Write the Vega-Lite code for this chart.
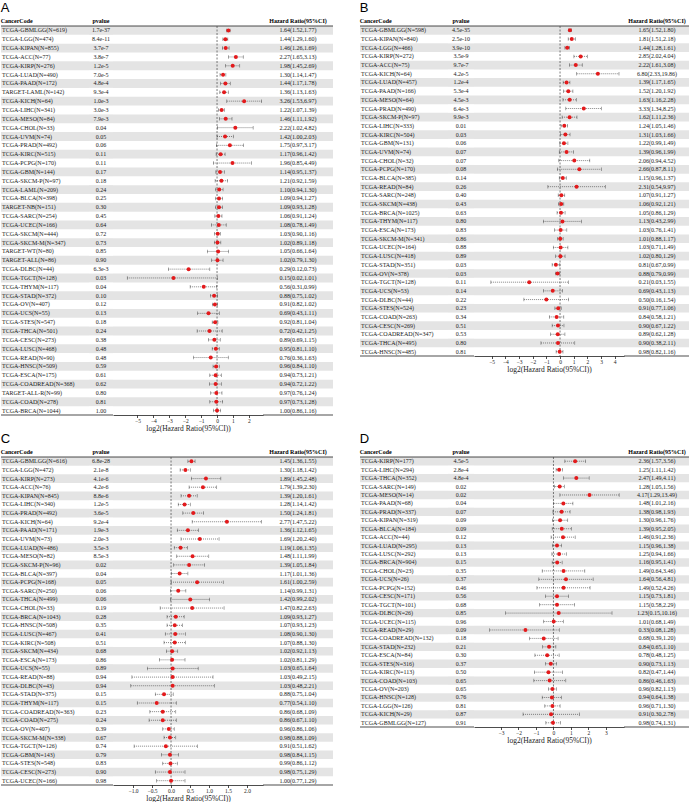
{
"$schema":"https://vega.github.io/schema/vega-lite/v6.json",
"padding":{"left":0,"top":1,"right":0,"bottom":0},
"spacing":0,
"vconcat":[
{"hconcat":[
{"title":{"text":"A","anchor":"start","fontSize":13,"font":"Liberation Sans","fontWeight":"normal","offset":3},"spacing":0,"bounds":"flush","hconcat":[
{"width":88,"height":389,"data":{"name":"a"},"transform":[{"window":[{"op":"row_number","as":"idx"}]}],"title":{"text":"CancerCode","anchor":"start"},
"encoding":{"y":{"field":"code","type":"nominal","sort":null,"axis":null,"scale":{"paddingInner":0,"paddingOuter":0}}},
"layer":[
{"mark":{"type":"rect"},"encoding":{"fill":{"condition":{"test":"datum.idx % 2 === 1","value":"#e4e4e4"},"value":"transparent"}}},
{"data":{"values":[{}]},"mark":{"type":"rule","color":"#000","strokeWidth":0.7},"encoding":{"y":{"value":0}}},
{"data":{"values":[{}]},"mark":{"type":"rule","color":"#000","strokeWidth":0.7},"encoding":{"y":{"value":"height"}}},
{"mark":{"type":"text","align":"left"},"encoding":{"x":{"value":1},"text":{"field":"code"}}}]},
{"width":24,"height":389,"data":{"name":"a"},"transform":[{"window":[{"op":"row_number","as":"idx"}]}],"title":"pvalue",
"encoding":{"y":{"field":"code","type":"nominal","sort":null,"axis":null,"scale":{"paddingInner":0,"paddingOuter":0}}},
"layer":[
{"mark":{"type":"rect"},"encoding":{"fill":{"condition":{"test":"datum.idx % 2 === 1","value":"#e4e4e4"},"value":"transparent"}}},
{"data":{"values":[{}]},"mark":{"type":"rule","color":"#000","strokeWidth":0.7},"encoding":{"y":{"value":0}}},
{"data":{"values":[{}]},"mark":{"type":"rule","color":"#000","strokeWidth":0.7},"encoding":{"y":{"value":"height"}}},
{"mark":{"type":"text"},"encoding":{"text":{"field":"p"}}}]},
{"width":150,"height":389,"data":{"name":"a"},"transform":[{"window":[{"op":"row_number","as":"idx"}]}],"title":" ",
"layer":[
{"mark":{"type":"rect"},"encoding":{"y":{"field":"code","type":"nominal","sort":null,"axis":null,"scale":{"paddingInner":0,"paddingOuter":0}},"fill":{"condition":{"test":"datum.idx % 2 === 1","value":"#e4e4e4"},"value":"transparent"}}},
{"data":{"values":[{}]},"mark":{"type":"rule","color":"#000","strokeWidth":0.7},"encoding":{"y":{"value":0}}},
{"data":{"values":[{}]},"mark":{"type":"rule","color":"#444","strokeWidth":0.7,"strokeDash":[2,1.5]},"encoding":{"x":{"datum":1,"type":"quantitative","scale":{"type":"log","base":2,"domain":[0.01075,7.41],"nice":false,"zero":false},"title":"log2(Hazard Ratio(95%CI))","axis":{"values":[0.03125,0.0625,0.125,0.25,0.5,1,2,4],"labelExpr":"format(log(datum.value)/LN2,'d')","grid":false}}}},
{"mark":{"type":"rule","color":"#333","strokeWidth":0.6,"strokeDash":[1,1]},"encoding":{"y":{"field":"code","type":"nominal","sort":null,"axis":null},"x":{"field":"lo","type":"quantitative","title":"log2(Hazard Ratio(95%CI))"},"x2":{"field":"hi"}}},
{"mark":{"type":"tick","color":"#333","thickness":0.6,"size":3.5},"encoding":{"y":{"field":"code","type":"nominal","sort":null,"axis":null},"x":{"field":"lo","type":"quantitative","title":"log2(Hazard Ratio(95%CI))"}}},
{"mark":{"type":"tick","color":"#333","thickness":0.6,"size":3.5},"encoding":{"y":{"field":"code","type":"nominal","sort":null,"axis":null},"x":{"field":"hi","type":"quantitative","title":"log2(Hazard Ratio(95%CI))"}}},
{"mark":{"type":"circle","color":"#e31a1c","size":16,"opacity":1},"encoding":{"y":{"field":"code","type":"nominal","sort":null,"axis":null},"x":{"field":"hr","type":"quantitative","title":"log2(Hazard Ratio(95%CI))"}}}]},
{"width":70,"height":389,"data":{"name":"a"},"transform":[{"window":[{"op":"row_number","as":"idx"}]}],"title":"Hazard Ratio(95%CI)",
"encoding":{"y":{"field":"code","type":"nominal","sort":null,"axis":null,"scale":{"paddingInner":0,"paddingOuter":0}}},
"layer":[
{"mark":{"type":"rect"},"encoding":{"fill":{"condition":{"test":"datum.idx % 2 === 1","value":"#e4e4e4"},"value":"transparent"}}},
{"data":{"values":[{}]},"mark":{"type":"rule","color":"#000","strokeWidth":0.7},"encoding":{"y":{"value":0}}},
{"data":{"values":[{}]},"mark":{"type":"rule","color":"#000","strokeWidth":0.7},"encoding":{"y":{"value":"height"}}},
{"mark":{"type":"text","text":{"expr":"format(datum.hr,'.2f')+'('+format(datum.lo,'.2f')+','+format(datum.hi,'.2f')+')'"}}}]}
]},
{"title":{"text":"B","anchor":"start","fontSize":13,"font":"Liberation Sans","fontWeight":"normal","offset":3},"spacing":0,"bounds":"flush","hconcat":[
{"width":88,"height":330,"data":{"name":"b"},"transform":[{"window":[{"op":"row_number","as":"idx"}]}],"title":{"text":"CancerCode","anchor":"start"},
"encoding":{"y":{"field":"code","type":"nominal","sort":null,"axis":null,"scale":{"paddingInner":0,"paddingOuter":0}}},
"layer":[
{"mark":{"type":"rect"},"encoding":{"fill":{"condition":{"test":"datum.idx % 2 === 1","value":"#e4e4e4"},"value":"transparent"}}},
{"data":{"values":[{}]},"mark":{"type":"rule","color":"#000","strokeWidth":0.7},"encoding":{"y":{"value":0}}},
{"data":{"values":[{}]},"mark":{"type":"rule","color":"#000","strokeWidth":0.7},"encoding":{"y":{"value":"height"}}},
{"mark":{"type":"text","align":"left"},"encoding":{"x":{"value":1},"text":{"field":"code"}}}]},
{"width":26,"height":330,"data":{"name":"b"},"transform":[{"window":[{"op":"row_number","as":"idx"}]}],"title":"pvalue",
"encoding":{"y":{"field":"code","type":"nominal","sort":null,"axis":null,"scale":{"paddingInner":0,"paddingOuter":0}}},
"layer":[
{"mark":{"type":"rect"},"encoding":{"fill":{"condition":{"test":"datum.idx % 2 === 1","value":"#e4e4e4"},"value":"transparent"}}},
{"data":{"values":[{}]},"mark":{"type":"rule","color":"#000","strokeWidth":0.7},"encoding":{"y":{"value":0}}},
{"data":{"values":[{}]},"mark":{"type":"rule","color":"#000","strokeWidth":0.7},"encoding":{"y":{"value":"height"}}},
{"mark":{"type":"text"},"encoding":{"text":{"field":"p"}}}]},
{"width":150,"height":330,"data":{"name":"b"},"transform":[{"window":[{"op":"row_number","as":"idx"}]}],"title":" ",
"layer":[
{"mark":{"type":"rect"},"encoding":{"y":{"field":"code","type":"nominal","sort":null,"axis":null,"scale":{"paddingInner":0,"paddingOuter":0}},"fill":{"condition":{"test":"datum.idx % 2 === 1","value":"#e4e4e4"},"value":"transparent"}}},
{"data":{"values":[{}]},"mark":{"type":"rule","color":"#000","strokeWidth":0.7},"encoding":{"y":{"value":0}}},
{"data":{"values":[{}]},"mark":{"type":"rule","color":"#444","strokeWidth":0.7,"strokeDash":[2,1.5]},"encoding":{"x":{"datum":1,"type":"quantitative","scale":{"type":"log","base":2,"domain":[0.01275,25.6],"nice":false,"zero":false},"title":"log2(Hazard Ratio(95%CI))","axis":{"values":[0.03125,0.0625,0.125,0.25,0.5,1,2,4,8,16],"labelExpr":"format(log(datum.value)/LN2,'d')","grid":false}}}},
{"mark":{"type":"rule","color":"#333","strokeWidth":0.6,"strokeDash":[1,1]},"encoding":{"y":{"field":"code","type":"nominal","sort":null,"axis":null},"x":{"field":"lo","type":"quantitative","title":"log2(Hazard Ratio(95%CI))"},"x2":{"field":"hi"}}},
{"mark":{"type":"tick","color":"#333","thickness":0.6,"size":3.5},"encoding":{"y":{"field":"code","type":"nominal","sort":null,"axis":null},"x":{"field":"lo","type":"quantitative","title":"log2(Hazard Ratio(95%CI))"}}},
{"mark":{"type":"tick","color":"#333","thickness":0.6,"size":3.5},"encoding":{"y":{"field":"code","type":"nominal","sort":null,"axis":null},"x":{"field":"hi","type":"quantitative","title":"log2(Hazard Ratio(95%CI))"}}},
{"mark":{"type":"circle","color":"#e31a1c","size":16,"opacity":1},"encoding":{"y":{"field":"code","type":"nominal","sort":null,"axis":null},"x":{"field":"hr","type":"quantitative","title":"log2(Hazard Ratio(95%CI))"}}}]},
{"width":66,"height":330,"data":{"name":"b"},"transform":[{"window":[{"op":"row_number","as":"idx"}]}],"title":"Hazard Ratio(95%CI)",
"encoding":{"y":{"field":"code","type":"nominal","sort":null,"axis":null,"scale":{"paddingInner":0,"paddingOuter":0}}},
"layer":[
{"mark":{"type":"rect"},"encoding":{"fill":{"condition":{"test":"datum.idx % 2 === 1","value":"#e4e4e4"},"value":"transparent"}}},
{"data":{"values":[{}]},"mark":{"type":"rule","color":"#000","strokeWidth":0.7},"encoding":{"y":{"value":0}}},
{"data":{"values":[{}]},"mark":{"type":"rule","color":"#000","strokeWidth":0.7},"encoding":{"y":{"value":"height"}}},
{"mark":{"type":"text","text":{"expr":"format(datum.hr,'.2f')+'('+format(datum.lo,'.2f')+','+format(datum.hi,'.2f')+')'"}}}]}
]}
],"spacing":25},
{"hconcat":[
{"title":{"text":"C","anchor":"start","fontSize":13,"font":"Liberation Sans","fontWeight":"normal","offset":3},"spacing":0,"bounds":"flush","hconcat":[
{"width":88,"height":328,"data":{"name":"c"},"transform":[{"window":[{"op":"row_number","as":"idx"}]}],"title":{"text":"CancerCode","anchor":"start"},
"encoding":{"y":{"field":"code","type":"nominal","sort":null,"axis":null,"scale":{"paddingInner":0,"paddingOuter":0}}},
"layer":[
{"mark":{"type":"rect"},"encoding":{"fill":{"condition":{"test":"datum.idx % 2 === 1","value":"#e4e4e4"},"value":"transparent"}}},
{"data":{"values":[{}]},"mark":{"type":"rule","color":"#000","strokeWidth":0.7},"encoding":{"y":{"value":0}}},
{"data":{"values":[{}]},"mark":{"type":"rule","color":"#000","strokeWidth":0.7},"encoding":{"y":{"value":"height"}}},
{"mark":{"type":"text","align":"left"},"encoding":{"x":{"value":1},"text":{"field":"code"}}}]},
{"width":24,"height":328,"data":{"name":"c"},"transform":[{"window":[{"op":"row_number","as":"idx"}]}],"title":"pvalue",
"encoding":{"y":{"field":"code","type":"nominal","sort":null,"axis":null,"scale":{"paddingInner":0,"paddingOuter":0}}},
"layer":[
{"mark":{"type":"rect"},"encoding":{"fill":{"condition":{"test":"datum.idx % 2 === 1","value":"#e4e4e4"},"value":"transparent"}}},
{"data":{"values":[{}]},"mark":{"type":"rule","color":"#000","strokeWidth":0.7},"encoding":{"y":{"value":0}}},
{"data":{"values":[{}]},"mark":{"type":"rule","color":"#000","strokeWidth":0.7},"encoding":{"y":{"value":"height"}}},
{"mark":{"type":"text"},"encoding":{"text":{"field":"p"}}}]},
{"width":150,"height":328,"data":{"name":"c"},"transform":[{"window":[{"op":"row_number","as":"idx"}]}],"title":" ",
"layer":[
{"mark":{"type":"rect"},"encoding":{"y":{"field":"code","type":"nominal","sort":null,"axis":null,"scale":{"paddingInner":0,"paddingOuter":0}},"fill":{"condition":{"test":"datum.idx % 2 === 1","value":"#e4e4e4"},"value":"transparent"}}},
{"data":{"values":[{}]},"mark":{"type":"rule","color":"#000","strokeWidth":0.7},"encoding":{"y":{"value":0}}},
{"data":{"values":[{}]},"mark":{"type":"rule","color":"#444","strokeWidth":0.7,"strokeDash":[2,1.5]},"encoding":{"x":{"datum":1,"type":"quantitative","scale":{"type":"log","base":2,"domain":[0.347,5.35],"nice":false,"zero":false},"title":"log2(Hazard Ratio(95%CI))","axis":{"values":[0.5,0.70710678,1,1.41421356,2,2.82842712,4],"labelExpr":"format(log(datum.value)/LN2,'.1f')","grid":false}}}},
{"mark":{"type":"rule","color":"#333","strokeWidth":0.6,"strokeDash":[1,1]},"encoding":{"y":{"field":"code","type":"nominal","sort":null,"axis":null},"x":{"field":"lo","type":"quantitative","title":"log2(Hazard Ratio(95%CI))"},"x2":{"field":"hi"}}},
{"mark":{"type":"tick","color":"#333","thickness":0.6,"size":3.5},"encoding":{"y":{"field":"code","type":"nominal","sort":null,"axis":null},"x":{"field":"lo","type":"quantitative","title":"log2(Hazard Ratio(95%CI))"}}},
{"mark":{"type":"tick","color":"#333","thickness":0.6,"size":3.5},"encoding":{"y":{"field":"code","type":"nominal","sort":null,"axis":null},"x":{"field":"hi","type":"quantitative","title":"log2(Hazard Ratio(95%CI))"}}},
{"mark":{"type":"circle","color":"#e31a1c","size":16,"opacity":1},"encoding":{"y":{"field":"code","type":"nominal","sort":null,"axis":null},"x":{"field":"hr","type":"quantitative","title":"log2(Hazard Ratio(95%CI))"}}}]},
{"width":70,"height":328,"data":{"name":"c"},"transform":[{"window":[{"op":"row_number","as":"idx"}]}],"title":"Hazard Ratio(95%CI)",
"encoding":{"y":{"field":"code","type":"nominal","sort":null,"axis":null,"scale":{"paddingInner":0,"paddingOuter":0}}},
"layer":[
{"mark":{"type":"rect"},"encoding":{"fill":{"condition":{"test":"datum.idx % 2 === 1","value":"#e4e4e4"},"value":"transparent"}}},
{"data":{"values":[{}]},"mark":{"type":"rule","color":"#000","strokeWidth":0.7},"encoding":{"y":{"value":0}}},
{"data":{"values":[{}]},"mark":{"type":"rule","color":"#000","strokeWidth":0.7},"encoding":{"y":{"value":"height"}}},
{"mark":{"type":"text","text":{"expr":"format(datum.hr,'.2f')+'('+format(datum.lo,'.2f')+','+format(datum.hi,'.2f')+')'"}}}]}
]},
{"title":{"text":"D","anchor":"start","fontSize":13,"font":"Liberation Sans","fontWeight":"normal","offset":3},"spacing":0,"bounds":"flush","hconcat":[
{"width":88,"height":270,"data":{"name":"d"},"transform":[{"window":[{"op":"row_number","as":"idx"}]}],"title":{"text":"CancerCode","anchor":"start"},
"encoding":{"y":{"field":"code","type":"nominal","sort":null,"axis":null,"scale":{"paddingInner":0,"paddingOuter":0}}},
"layer":[
{"mark":{"type":"rect"},"encoding":{"fill":{"condition":{"test":"datum.idx % 2 === 1","value":"#e4e4e4"},"value":"transparent"}}},
{"data":{"values":[{}]},"mark":{"type":"rule","color":"#000","strokeWidth":0.7},"encoding":{"y":{"value":0}}},
{"data":{"values":[{}]},"mark":{"type":"rule","color":"#000","strokeWidth":0.7},"encoding":{"y":{"value":"height"}}},
{"mark":{"type":"text","align":"left"},"encoding":{"x":{"value":1},"text":{"field":"code"}}}]},
{"width":26,"height":270,"data":{"name":"d"},"transform":[{"window":[{"op":"row_number","as":"idx"}]}],"title":"pvalue",
"encoding":{"y":{"field":"code","type":"nominal","sort":null,"axis":null,"scale":{"paddingInner":0,"paddingOuter":0}}},
"layer":[
{"mark":{"type":"rect"},"encoding":{"fill":{"condition":{"test":"datum.idx % 2 === 1","value":"#e4e4e4"},"value":"transparent"}}},
{"data":{"values":[{}]},"mark":{"type":"rule","color":"#000","strokeWidth":0.7},"encoding":{"y":{"value":0}}},
{"data":{"values":[{}]},"mark":{"type":"rule","color":"#000","strokeWidth":0.7},"encoding":{"y":{"value":"height"}}},
{"mark":{"type":"text"},"encoding":{"text":{"field":"p"}}}]},
{"width":150,"height":270,"data":{"name":"d"},"transform":[{"window":[{"op":"row_number","as":"idx"}]}],"title":" ",
"layer":[
{"mark":{"type":"rect"},"encoding":{"y":{"field":"code","type":"nominal","sort":null,"axis":null,"scale":{"paddingInner":0,"paddingOuter":0}},"fill":{"condition":{"test":"datum.idx % 2 === 1","value":"#e4e4e4"},"value":"transparent"}}},
{"data":{"values":[{}]},"mark":{"type":"rule","color":"#000","strokeWidth":0.7},"encoding":{"y":{"value":0}}},
{"data":{"values":[{}]},"mark":{"type":"rule","color":"#444","strokeWidth":0.7,"strokeDash":[2,1.5]},"encoding":{"x":{"datum":1,"type":"quantitative","scale":{"type":"log","base":2,"domain":[0.043,16.33],"nice":false,"zero":false},"title":"log2(Hazard Ratio(95%CI))","axis":{"values":[0.125,0.25,0.5,1,2,4,8],"labelExpr":"format(log(datum.value)/LN2,'d')","grid":false}}}},
{"mark":{"type":"rule","color":"#333","strokeWidth":0.6,"strokeDash":[1,1]},"encoding":{"y":{"field":"code","type":"nominal","sort":null,"axis":null},"x":{"field":"lo","type":"quantitative","title":"log2(Hazard Ratio(95%CI))"},"x2":{"field":"hi"}}},
{"mark":{"type":"tick","color":"#333","thickness":0.6,"size":3.5},"encoding":{"y":{"field":"code","type":"nominal","sort":null,"axis":null},"x":{"field":"lo","type":"quantitative","title":"log2(Hazard Ratio(95%CI))"}}},
{"mark":{"type":"tick","color":"#333","thickness":0.6,"size":3.5},"encoding":{"y":{"field":"code","type":"nominal","sort":null,"axis":null},"x":{"field":"hi","type":"quantitative","title":"log2(Hazard Ratio(95%CI))"}}},
{"mark":{"type":"circle","color":"#e31a1c","size":16,"opacity":1},"encoding":{"y":{"field":"code","type":"nominal","sort":null,"axis":null},"x":{"field":"hr","type":"quantitative","title":"log2(Hazard Ratio(95%CI))"}}}]},
{"width":66,"height":270,"data":{"name":"d"},"transform":[{"window":[{"op":"row_number","as":"idx"}]}],"title":"Hazard Ratio(95%CI)",
"encoding":{"y":{"field":"code","type":"nominal","sort":null,"axis":null,"scale":{"paddingInner":0,"paddingOuter":0}}},
"layer":[
{"mark":{"type":"rect"},"encoding":{"fill":{"condition":{"test":"datum.idx % 2 === 1","value":"#e4e4e4"},"value":"transparent"}}},
{"data":{"values":[{}]},"mark":{"type":"rule","color":"#000","strokeWidth":0.7},"encoding":{"y":{"value":0}}},
{"data":{"values":[{}]},"mark":{"type":"rule","color":"#000","strokeWidth":0.7},"encoding":{"y":{"value":"height"}}},
{"mark":{"type":"text","text":{"expr":"format(datum.hr,'.2f')+'('+format(datum.lo,'.2f')+','+format(datum.hi,'.2f')+')'"}}}]}
]}
],"spacing":25}
],
"datasets":{
"a":[
{"code":"TCGA-GBMLGG(N=619)","p":"1.7e-37","hr":1.64,"lo":1.52,"hi":1.77},
{"code":"TCGA-LGG(N=474)","p":"8.4e-11","hr":1.44,"lo":1.29,"hi":1.60},
{"code":"TCGA-KIPAN(N=855)","p":"3.7e-7","hr":1.46,"lo":1.26,"hi":1.69},
{"code":"TCGA-ACC(N=77)","p":"3.8e-7","hr":2.27,"lo":1.65,"hi":3.13},
{"code":"TCGA-KIRP(N=276)","p":"1.2e-5","hr":1.98,"lo":1.45,"hi":2.69},
{"code":"TCGA-LUAD(N=490)","p":"7.0e-5","hr":1.30,"lo":1.14,"hi":1.47},
{"code":"TCGA-PAAD(N=172)","p":"4.8e-4","hr":1.44,"lo":1.17,"hi":1.78},
{"code":"TARGET-LAML(N=142)","p":"9.3e-4","hr":1.36,"lo":1.13,"hi":1.63},
{"code":"TCGA-KICH(N=64)","p":"1.0e-3","hr":3.26,"lo":1.53,"hi":6.97},
{"code":"TCGA-LIHC(N=341)","p":"3.0e-3","hr":1.22,"lo":1.07,"hi":1.39},
{"code":"TCGA-MESO(N=84)","p":"7.9e-3","hr":1.46,"lo":1.11,"hi":1.92},
{"code":"TCGA-CHOL(N=33)","p":"0.04","hr":2.22,"lo":1.02,"hi":4.82},
{"code":"TCGA-UVM(N=74)","p":"0.05","hr":1.42,"lo":1.00,"hi":2.03},
{"code":"TCGA-PRAD(N=492)","p":"0.06","hr":1.75,"lo":0.97,"hi":3.17},
{"code":"TCGA-KIRC(N=515)","p":"0.11","hr":1.17,"lo":0.96,"hi":1.42},
{"code":"TCGA-PCPG(N=170)","p":"0.11","hr":1.96,"lo":0.85,"hi":4.49},
{"code":"TCGA-GBM(N=144)","p":"0.17","hr":1.14,"lo":0.95,"hi":1.37},
{"code":"TCGA-SKCM-P(N=97)","p":"0.18","hr":1.21,"lo":0.92,"hi":1.59},
{"code":"TCGA-LAML(N=209)","p":"0.24","hr":1.10,"lo":0.94,"hi":1.30},
{"code":"TCGA-BLCA(N=398)","p":"0.25","hr":1.09,"lo":0.94,"hi":1.27},
{"code":"TARGET-NB(N=151)","p":"0.30","hr":1.09,"lo":0.93,"hi":1.28},
{"code":"TCGA-SARC(N=254)","p":"0.45","hr":1.06,"lo":0.91,"hi":1.24},
{"code":"TCGA-UCEC(N=166)","p":"0.64","hr":1.08,"lo":0.78,"hi":1.49},
{"code":"TCGA-SKCM(N=444)","p":"0.72","hr":1.03,"lo":0.90,"hi":1.16},
{"code":"TCGA-SKCM-M(N=347)","p":"0.73","hr":1.02,"lo":0.89,"hi":1.18},
{"code":"TARGET-WT(N=80)","p":"0.85","hr":1.05,"lo":0.66,"hi":1.64},
{"code":"TARGET-ALL(N=86)","p":"0.90","hr":1.02,"lo":0.79,"hi":1.30},
{"code":"TCGA-DLBC(N=44)","p":"6.3e-3","hr":0.29,"lo":0.12,"hi":0.73},
{"code":"TCGA-TGCT(N=128)","p":"0.03","hr":0.15,"lo":0.02,"hi":1.01},
{"code":"TCGA-THYM(N=117)","p":"0.04","hr":0.56,"lo":0.31,"hi":0.99},
{"code":"TCGA-STAD(N=372)","p":"0.10","hr":0.88,"lo":0.75,"hi":1.02},
{"code":"TCGA-OV(N=407)","p":"0.12","hr":0.91,"lo":0.82,"hi":1.02},
{"code":"TCGA-UCS(N=55)","p":"0.13","hr":0.69,"lo":0.43,"hi":1.11},
{"code":"TCGA-STES(N=547)","p":"0.18","hr":0.92,"lo":0.81,"hi":1.04},
{"code":"TCGA-THCA(N=501)","p":"0.24","hr":0.72,"lo":0.42,"hi":1.25},
{"code":"TCGA-CESC(N=273)","p":"0.38","hr":0.89,"lo":0.69,"hi":1.15},
{"code":"TCGA-LUSC(N=468)","p":"0.48","hr":0.95,"lo":0.81,"hi":1.10},
{"code":"TCGA-READ(N=90)","p":"0.48","hr":0.76,"lo":0.36,"hi":1.63},
{"code":"TCGA-HNSC(N=509)","p":"0.59","hr":0.96,"lo":0.84,"hi":1.10},
{"code":"TCGA-ESCA(N=175)","p":"0.61","hr":0.94,"lo":0.73,"hi":1.21},
{"code":"TCGA-COADREAD(N=368)","p":"0.62","hr":0.94,"lo":0.72,"hi":1.22},
{"code":"TARGET-ALL-R(N=99)","p":"0.80","hr":0.97,"lo":0.76,"hi":1.24},
{"code":"TCGA-COAD(N=278)","p":"0.81","hr":0.97,"lo":0.73,"hi":1.28},
{"code":"TCGA-BRCA(N=1044)","p":"1.00","hr":1.00,"lo":0.86,"hi":1.16}],
"b":[
{"code":"TCGA-GBMLGG(N=598)","p":"4.5e-35","hr":1.65,"lo":1.52,"hi":1.80},
{"code":"TCGA-KIPAN(N=840)","p":"2.5e-10","hr":1.81,"lo":1.51,"hi":2.18},
{"code":"TCGA-LGG(N=466)","p":"3.9e-10","hr":1.44,"lo":1.28,"hi":1.61},
{"code":"TCGA-KIRP(N=272)","p":"3.5e-9","hr":2.85,"lo":2.02,"hi":4.04},
{"code":"TCGA-ACC(N=75)","p":"9.7e-7","hr":2.22,"lo":1.61,"hi":3.08},
{"code":"TCGA-KICH(N=64)","p":"4.2e-5","hr":6.80,"lo":2.33,"hi":19.86},
{"code":"TCGA-LUAD(N=457)","p":"1.2e-4","hr":1.39,"lo":1.17,"hi":1.65},
{"code":"TCGA-PAAD(N=166)","p":"5.3e-4","hr":1.52,"lo":1.20,"hi":1.92},
{"code":"TCGA-MESO(N=64)","p":"4.5e-3","hr":1.63,"lo":1.16,"hi":2.28},
{"code":"TCGA-PRAD(N=490)","p":"6.4e-3","hr":3.33,"lo":1.34,"hi":8.25},
{"code":"TCGA-SKCM-P(N=97)","p":"9.9e-3","hr":1.62,"lo":1.11,"hi":2.36},
{"code":"TCGA-LIHC(N=333)","p":"0.01","hr":1.24,"lo":1.05,"hi":1.46},
{"code":"TCGA-KIRC(N=504)","p":"0.03","hr":1.31,"lo":1.03,"hi":1.66},
{"code":"TCGA-GBM(N=131)","p":"0.06","hr":1.22,"lo":0.99,"hi":1.49},
{"code":"TCGA-UVM(N=74)","p":"0.07","hr":1.39,"lo":0.96,"hi":1.99},
{"code":"TCGA-CHOL(N=32)","p":"0.07","hr":2.06,"lo":0.94,"hi":4.52},
{"code":"TCGA-PCPG(N=170)","p":"0.08","hr":2.66,"lo":0.87,"hi":8.11},
{"code":"TCGA-BLCA(N=385)","p":"0.14","hr":1.15,"lo":0.96,"hi":1.37},
{"code":"TCGA-READ(N=84)","p":"0.26","hr":2.31,"lo":0.54,"hi":9.97},
{"code":"TCGA-SARC(N=248)","p":"0.40","hr":1.07,"lo":0.91,"hi":1.27},
{"code":"TCGA-SKCM(N=438)","p":"0.43","hr":1.06,"lo":0.92,"hi":1.21},
{"code":"TCGA-BRCA(N=1025)","p":"0.63","hr":1.05,"lo":0.86,"hi":1.29},
{"code":"TCGA-THYM(N=117)","p":"0.80","hr":1.13,"lo":0.43,"hi":2.99},
{"code":"TCGA-ESCA(N=173)","p":"0.83","hr":1.03,"lo":0.76,"hi":1.41},
{"code":"TCGA-SKCM-M(N=341)","p":"0.86","hr":1.01,"lo":0.88,"hi":1.17},
{"code":"TCGA-UCEC(N=164)","p":"0.88","hr":1.03,"lo":0.71,"hi":1.49},
{"code":"TCGA-LUSC(N=418)","p":"0.89","hr":1.02,"lo":0.80,"hi":1.29},
{"code":"TCGA-STAD(N=351)","p":"0.03","hr":0.81,"lo":0.67,"hi":0.99},
{"code":"TCGA-OV(N=378)","p":"0.03","hr":0.88,"lo":0.79,"hi":0.99},
{"code":"TCGA-TGCT(N=128)","p":"0.11","hr":0.21,"lo":0.03,"hi":1.55},
{"code":"TCGA-UCS(N=53)","p":"0.14","hr":0.69,"lo":0.43,"hi":1.13},
{"code":"TCGA-DLBC(N=44)","p":"0.22","hr":0.50,"lo":0.16,"hi":1.54},
{"code":"TCGA-STES(N=524)","p":"0.23","hr":0.91,"lo":0.77,"hi":1.06},
{"code":"TCGA-COAD(N=263)","p":"0.34","hr":0.84,"lo":0.58,"hi":1.21},
{"code":"TCGA-CESC(N=269)","p":"0.51","hr":0.90,"lo":0.67,"hi":1.22},
{"code":"TCGA-COADREAD(N=347)","p":"0.53","hr":0.89,"lo":0.62,"hi":1.28},
{"code":"TCGA-THCA(N=495)","p":"0.80","hr":0.90,"lo":0.38,"hi":2.11},
{"code":"TCGA-HNSC(N=485)","p":"0.81","hr":0.98,"lo":0.82,"hi":1.16}],
"c":[
{"code":"TCGA-GBMLGG(N=616)","p":"6.8e-28","hr":1.45,"lo":1.36,"hi":1.55},
{"code":"TCGA-LGG(N=472)","p":"2.1e-8","hr":1.30,"lo":1.18,"hi":1.42},
{"code":"TCGA-KIRP(N=273)","p":"4.1e-6","hr":1.89,"lo":1.45,"hi":2.48},
{"code":"TCGA-ACC(N=76)","p":"4.2e-6","hr":1.79,"lo":1.39,"hi":2.30},
{"code":"TCGA-KIPAN(N=845)","p":"8.8e-6","hr":1.39,"lo":1.20,"hi":1.61},
{"code":"TCGA-LIHC(N=340)","p":"1.2e-5","hr":1.28,"lo":1.14,"hi":1.42},
{"code":"TCGA-PRAD(N=492)","p":"3.6e-5","hr":1.50,"lo":1.24,"hi":1.81},
{"code":"TCGA-KICH(N=64)","p":"9.2e-4","hr":2.77,"lo":1.47,"hi":5.22},
{"code":"TCGA-PAAD(N=171)","p":"1.9e-3","hr":1.36,"lo":1.12,"hi":1.65},
{"code":"TCGA-UVM(N=73)","p":"2.0e-3","hr":1.69,"lo":1.20,"hi":2.40},
{"code":"TCGA-LUAD(N=486)","p":"3.5e-3","hr":1.19,"lo":1.06,"hi":1.35},
{"code":"TCGA-MESO(N=82)","p":"8.5e-3","hr":1.48,"lo":1.11,"hi":1.99},
{"code":"TCGA-SKCM-P(N=96)","p":"0.02","hr":1.39,"lo":1.05,"hi":1.84},
{"code":"TCGA-BLCA(N=397)","p":"0.04","hr":1.17,"lo":1.01,"hi":1.36},
{"code":"TCGA-PCPG(N=168)","p":"0.05","hr":1.61,"lo":1.00,"hi":2.59},
{"code":"TCGA-SARC(N=250)","p":"0.06","hr":1.14,"lo":0.99,"hi":1.31},
{"code":"TCGA-THCA(N=499)","p":"0.06","hr":1.42,"lo":0.99,"hi":2.02},
{"code":"TCGA-CHOL(N=33)","p":"0.19","hr":1.47,"lo":0.82,"hi":2.63},
{"code":"TCGA-BRCA(N=1043)","p":"0.28","hr":1.09,"lo":0.93,"hi":1.27},
{"code":"TCGA-HNSC(N=508)","p":"0.35","hr":1.07,"lo":0.93,"hi":1.23},
{"code":"TCGA-LUSC(N=467)","p":"0.41","hr":1.08,"lo":0.90,"hi":1.30},
{"code":"TCGA-KIRC(N=508)","p":"0.51","hr":1.07,"lo":0.88,"hi":1.30},
{"code":"TCGA-SKCM(N=434)","p":"0.68","hr":1.02,"lo":0.92,"hi":1.13},
{"code":"TCGA-ESCA(N=173)","p":"0.86","hr":1.02,"lo":0.81,"hi":1.29},
{"code":"TCGA-UCS(N=55)","p":"0.89","hr":1.03,"lo":0.65,"hi":1.64},
{"code":"TCGA-READ(N=88)","p":"0.94","hr":1.03,"lo":0.49,"hi":2.15},
{"code":"TCGA-DLBC(N=43)","p":"0.94","hr":1.03,"lo":0.48,"hi":2.21},
{"code":"TCGA-STAD(N=375)","p":"0.15","hr":0.88,"lo":0.75,"hi":1.04},
{"code":"TCGA-THYM(N=117)","p":"0.15","hr":0.77,"lo":0.54,"hi":1.10},
{"code":"TCGA-COADREAD(N=363)","p":"0.23","hr":0.86,"lo":0.68,"hi":1.09},
{"code":"TCGA-COAD(N=275)","p":"0.24","hr":0.86,"lo":0.67,"hi":1.10},
{"code":"TCGA-OV(N=407)","p":"0.39","hr":0.96,"lo":0.86,"hi":1.06},
{"code":"TCGA-SKCM-M(N=338)","p":"0.67","hr":0.98,"lo":0.88,"hi":1.09},
{"code":"TCGA-TGCT(N=126)","p":"0.74","hr":0.91,"lo":0.51,"hi":1.62},
{"code":"TCGA-GBM(N=143)","p":"0.79","hr":0.98,"lo":0.84,"hi":1.15},
{"code":"TCGA-STES(N=548)","p":"0.83","hr":0.99,"lo":0.86,"hi":1.12},
{"code":"TCGA-CESC(N=273)","p":"0.90","hr":0.98,"lo":0.75,"hi":1.29},
{"code":"TCGA-UCEC(N=166)","p":"0.98","hr":1.00,"lo":0.77,"hi":1.29}],
"d":[
{"code":"TCGA-KIRP(N=177)","p":"4.5e-5","hr":2.36,"lo":1.57,"hi":3.56},
{"code":"TCGA-LIHC(N=294)","p":"2.8e-4","hr":1.25,"lo":1.11,"hi":1.42},
{"code":"TCGA-THCA(N=352)","p":"4.8e-4","hr":2.47,"lo":1.49,"hi":4.11},
{"code":"TCGA-SARC(N=149)","p":"0.02","hr":1.28,"lo":1.05,"hi":1.56},
{"code":"TCGA-MESO(N=14)","p":"0.02","hr":4.17,"lo":1.29,"hi":13.49},
{"code":"TCGA-PAAD(N=68)","p":"0.04","hr":1.48,"lo":1.01,"hi":2.16},
{"code":"TCGA-PRAD(N=337)","p":"0.07","hr":1.38,"lo":0.98,"hi":1.93},
{"code":"TCGA-KIPAN(N=319)","p":"0.09","hr":1.30,"lo":0.96,"hi":1.76},
{"code":"TCGA-BLCA(N=184)","p":"0.09","hr":1.39,"lo":0.95,"hi":2.05},
{"code":"TCGA-ACC(N=44)","p":"0.12","hr":1.46,"lo":0.91,"hi":2.36},
{"code":"TCGA-LUAD(N=295)","p":"0.13","hr":1.15,"lo":0.96,"hi":1.38},
{"code":"TCGA-LUSC(N=292)","p":"0.13","hr":1.25,"lo":0.94,"hi":1.66},
{"code":"TCGA-BRCA(N=904)","p":"0.15","hr":1.16,"lo":0.95,"hi":1.41},
{"code":"TCGA-CHOL(N=23)","p":"0.35","hr":1.49,"lo":0.64,"hi":3.46},
{"code":"TCGA-UCS(N=26)","p":"0.37","hr":1.64,"lo":0.56,"hi":4.81},
{"code":"TCGA-PCPG(N=152)","p":"0.46","hr":1.49,"lo":0.52,"hi":4.26},
{"code":"TCGA-CESC(N=171)","p":"0.56","hr":1.15,"lo":0.73,"hi":1.81},
{"code":"TCGA-TGCT(N=101)","p":"0.68","hr":1.15,"lo":0.58,"hi":2.29},
{"code":"TCGA-DLBC(N=26)","p":"0.85","hr":1.23,"lo":0.15,"hi":10.16},
{"code":"TCGA-UCEC(N=115)","p":"0.96","hr":1.01,"lo":0.68,"hi":1.49},
{"code":"TCGA-READ(N=29)","p":"0.09","hr":0.33,"lo":0.08,"hi":1.28},
{"code":"TCGA-COADREAD(N=132)","p":"0.18","hr":0.68,"lo":0.39,"hi":1.20},
{"code":"TCGA-STAD(N=232)","p":"0.21","hr":0.84,"lo":0.65,"hi":1.10},
{"code":"TCGA-ESCA(N=84)","p":"0.30","hr":0.78,"lo":0.48,"hi":1.25},
{"code":"TCGA-STES(N=316)","p":"0.37","hr":0.90,"lo":0.73,"hi":1.13},
{"code":"TCGA-KIRC(N=113)","p":"0.50","hr":0.82,"lo":0.47,"hi":1.44},
{"code":"TCGA-COAD(N=103)","p":"0.65","hr":0.86,"lo":0.46,"hi":1.63},
{"code":"TCGA-OV(N=203)","p":"0.65","hr":0.96,"lo":0.82,"hi":1.13},
{"code":"TCGA-HNSC(N=128)","p":"0.76","hr":0.94,"lo":0.64,"hi":1.38},
{"code":"TCGA-LGG(N=126)","p":"0.81","hr":0.96,"lo":0.71,"hi":1.30},
{"code":"TCGA-KICH(N=29)","p":"0.87","hr":0.91,"lo":0.30,"hi":2.78},
{"code":"TCGA-GBMLGG(N=127)","p":"0.91","hr":0.98,"lo":0.74,"hi":1.31}]
},
"config":{
"view":{"stroke":null},
"text":{"font":"Liberation Serif","fontSize":6,"color":"#1a1a1a","baseline":"middle"},
"title":{"font":"Liberation Serif","fontSize":6,"fontWeight":"bold","color":"#000","offset":2,"anchor":"middle"},
"axis":{"grid":false,"domainColor":"#000","domainWidth":0.7,"tickColor":"#000","tickWidth":0.7,"tickSize":2.5,"labelFont":"Liberation Serif","labelFontSize":5.5,"labelPadding":1,"labelColor":"#222","titleFont":"Liberation Serif","titleFontSize":7.5,"titleFontWeight":"normal","titlePadding":0,"titleColor":"#222"}
}
}
